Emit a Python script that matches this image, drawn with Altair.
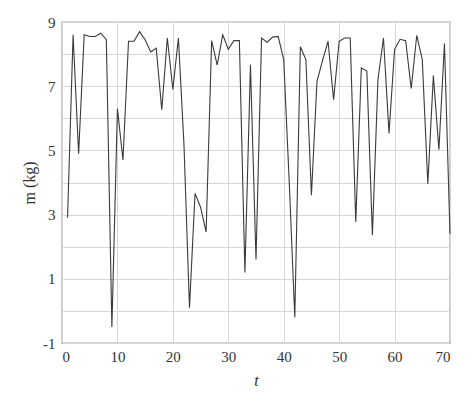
import altair as alt
import pandas as pd

t_values = list(range(1, 71))
m_values = [
    2.9, 8.6, 4.9, 8.6, 8.55, 8.55, 8.65, 8.45, -0.5, 6.3,
    4.7, 8.4, 8.4, 8.7, 8.45, 8.07, 8.18, 6.27, 8.5, 6.9,
    8.5, 5.2, 0.1, 3.66, 3.23, 2.46, 8.42, 7.66, 8.6, 8.15,
    8.42, 8.42, 1.2, 7.67, 1.6, 8.5, 8.37, 8.53, 8.55, 7.83,
    4.0, -0.2, 8.23, 7.83, 3.6, 7.15, 7.8, 8.4, 6.58, 8.4,
    8.5, 8.5, 2.77, 7.57, 7.47, 2.36, 7.2, 8.5, 5.53, 8.15,
    8.46, 8.42, 6.93, 8.58, 7.83, 3.96, 7.33, 5.02, 8.33, 2.4,
]
x_ticks = [0, 10, 20, 30, 40, 50, 60, 70]
y_ticks = list(range(-1, 10))

df = pd.DataFrame({"t": t_values, "m": m_values})

font = "Liberation Serif, DejaVu Serif, serif"

chart = alt.Chart(df).mark_line(color="#3a3a3a", strokeWidth=1.1).encode(
    x=alt.X("t:Q", scale=alt.Scale(domain=[0, 70], nice=False),
            axis=alt.Axis(values=x_ticks, title="t", titleFontStyle="italic",
                          titleFontWeight="normal", ticks=False, labelPadding=6,
                          titlePadding=8, labelFont=font, titleFont=font,
                          labelFontSize=15, titleFontSize=16)),
    y=alt.Y("m:Q", scale=alt.Scale(domain=[-1, 9], nice=False),
            axis=alt.Axis(values=y_ticks, title="m (kg)", titleFontWeight="normal",
                          ticks=False, labelPadding=7, titlePadding=5,
                          labelFont=font, titleFont=font,
                          labelFontSize=15, titleFontSize=16,
                          labelExpr="datum.value % 2 != 0 ? '' + datum.value : ''")),
).properties(
    width=388, height=321,
    autosize=alt.AutoSizeParams(type="none"),
    padding={"left": 54, "top": 14, "right": 16, "bottom": 50},
).configure(
    background="white", font=font,
).configure_axis(
    labelColor="#333", titleColor="#333",
    gridColor="#d6d6d6", gridWidth=1, domain=False,
).configure_view(
    stroke="#555", strokeWidth=1.2,
)

chart.save("out.html", embed_options={"renderer": "svg", "actions": False})
